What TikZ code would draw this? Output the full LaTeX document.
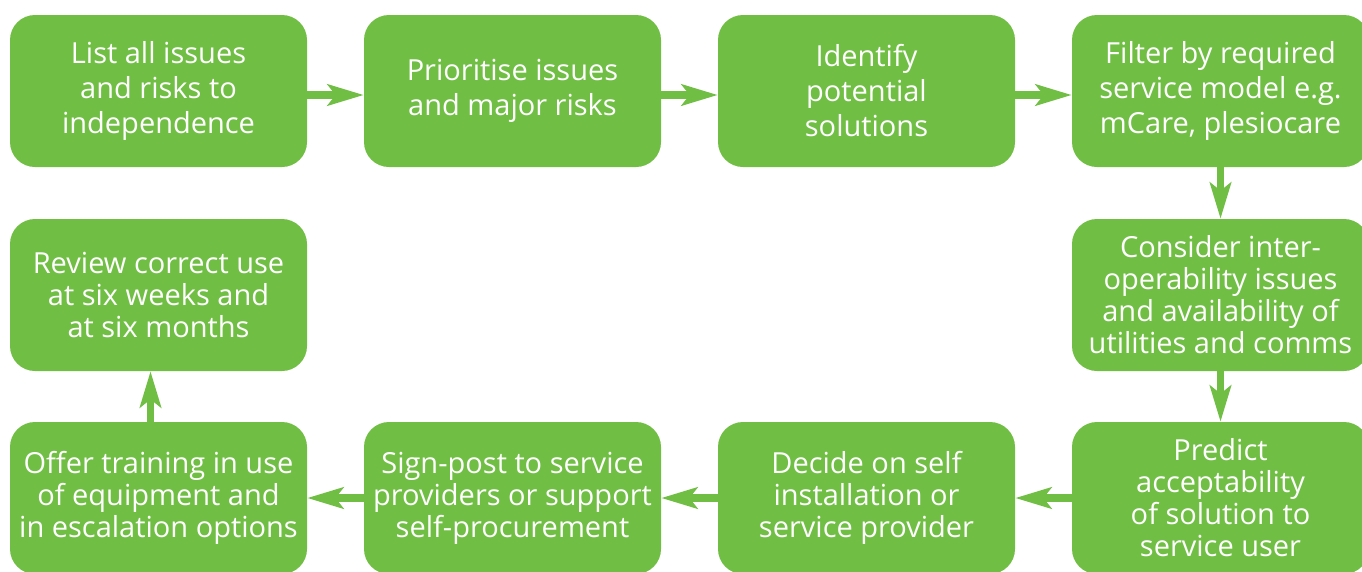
\documentclass[tikz,border=0pt]{standalone}
\usepackage{fontspec}
\setmainfont{Open Sans}
\usetikzlibrary{arrows.meta}
\definecolor{leaf}{HTML}{70BF44}
\tikzset{
  stage/.style={fill=leaf, draw=none, rounded corners=25pt, minimum width=297pt,
    minimum height=152pt, inner sep=0pt, text=white, align=center,
    font=\fontsize{29}{35}\selectfont},
  tight/.style={font=\fontsize{29}{32}\selectfont},
  flow/.style={draw=leaf, line width=7.5pt,
    -{Stealth[length=36pt, width=21pt, inset=8pt]}, shorten >=0pt}
}
\begin{document}
\begin{tikzpicture}[x=1pt, y=-1pt]
  \useasboundingbox (0,0) rectangle (1362,571);
  \fill[white] (0,0) rectangle (1362,571);
  % top row
  \node[stage] (s1) at (158.5,91) {List all issues\\and risks to\\independence};
  \node[stage] (s2) at (512.5,91) {Prioritise issues\\and major risks};
  \node[stage] (s3) at (866.5,91) {Identify\\potential\\solutions};
  \node[stage] (s4) at (1220.5,91) {Filter by required\\service model e.g.\\mCare, plesiocare};
  % middle row
  \node[stage, tight] (s10) at (158.5,295) {Review correct use\\at six weeks and\\at six months};
  \node[stage, tight] (s5) at (1220.5,295) {Consider inter-\\operability issues\\and availability of\\utilities and comms};
  % bottom row
  \node[stage, tight] (s6) at (1220.5,498) {Predict\\acceptability\\of solution to\\service user};
  \node[stage, tight] (s7) at (866.5,498) {Decide on self\\installation or\\service provider};
  \node[stage, tight] (s8) at (512.5,498) {Sign-post to service\\providers or support\\self-procurement};
  \node[stage, tight] (s9) at (158.5,498) {Offer training in use\\of equipment and\\in escalation options};
  % connectors
  \draw[flow] ([yshift=-4pt]s1.east) -- ([yshift=-4pt]s2.west);
  \draw[flow] ([yshift=-4pt]s2.east) -- ([yshift=-4pt]s3.west);
  \draw[flow] ([yshift=-4pt]s3.east) -- ([yshift=-4pt]s4.west);
  \draw[flow] (s4.south) -- (s5.north);
  \draw[flow] (s5.south) -- (s6.north);
  \draw[flow] (s6.west) -- (s7.east);
  \draw[flow] (s7.west) -- (s8.east);
  \draw[flow] (s8.west) -- (s9.east);
  \draw[flow] ([xshift=-8pt]s9.north) -- ([xshift=-8pt]s10.south);
\end{tikzpicture}
\end{document}
